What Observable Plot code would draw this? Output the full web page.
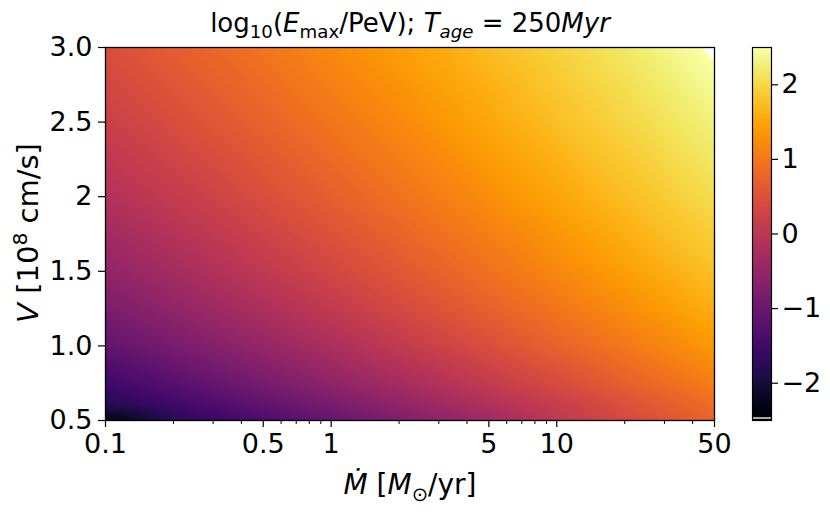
<!DOCTYPE html>
<html><head><meta charset="utf-8">
<script src="https://cdn.jsdelivr.net/npm/d3@7"></script>
<script src="https://cdn.jsdelivr.net/npm/@observablehq/plot@0.6"></script>
<style>
body{margin:0;background:#fff;}
#chart{position:relative;width:830px;height:513px;font-family:"DejaVu Sans",sans-serif;color:#000;}
#chart svg{position:absolute;left:0;top:0;}
.lbl{position:absolute;white-space:nowrap;font-size:27px;line-height:1;}
.lbl sub,.lbl sup{font-size:70%;line-height:0;}
</style></head><body><div id="chart"></div>
<script>
// Mass-loss rate (x, log) and wind velocity (y) grid
const mdot = [0.1, 0.2, 0.5, 1, 2, 5, 10, 20, 50];
const vel = [0.5, 0.6, 0.75, 1.0, 1.25, 1.5, 2.0, 2.5, 3.0];
// log10(Emax/PeV): one row per vel value, one column per mdot value
const emaxRows = [
  [-2.35, -1.80, -1.37, -1.07, -0.76, -0.35, 0.05, 0.35, 0.75],
  [-1.85, -1.53, -1.13, -0.84, -0.54, -0.14, 0.16, 0.47, 0.88],
  [-1.52, -1.22, -0.84, -0.55, -0.27, 0.12, 0.40, 0.70, 1.08],
  [-1.10, -0.83, -0.47, -0.19, 0.09, 0.45, 0.73, 1.00, 1.37],
  [-0.79, -0.52, -0.17, 0.09, 0.36, 0.71, 0.97, 1.24, 1.59],
  [-0.53, -0.28, 0.07, 0.32, 0.58, 0.92, 1.18, 1.43, 1.77],
  [-0.12, 0.12, 0.44, 0.69, 0.93, 1.25, 1.50, 1.74, 2.06],
  [0.19, 0.43, 0.73, 0.97, 1.20, 1.51, 1.75, 1.98, 2.29],
  [0.45, 0.67, 0.97, 1.20, 1.42, 1.72, 1.95, 2.17, 2.55]
];
const xTicks = [0.1, 0.5, 1, 5, 10, 50];
const xTickLabels = ["0.1", "0.5", "1", "5", "10", "50"];
const xMinorTicks = [0.2, 0.3, 0.4, 0.6, 0.7, 0.8, 0.9, 2, 3, 4, 6, 7, 8, 9, 20, 30, 40];
const yTicks = [0.5, 1.0, 1.5, 2.0, 2.5, 3.0];
const yTickLabels = ["0.5", "1.0", "1.5", "2", "2.5", "3.0"];
const cbTicks = [-2, -1, 0, 1, 2];
const cbTickLabels = ["\u22122", "\u22121", "0", "1", "2"];
const colorDomain = [-2.5, 2.5];

const grid = [];
vel.forEach((v, j) => mdot.forEach((m, i) => grid.push({mdot: m, v: v, e: emaxRows[j][i]})));

const yLab = new Map(yTicks.map((d, i) => [d, yTickLabels[i]]));
const cLab = new Map(cbTicks.map((d, i) => [d, cbTickLabels[i]]));

const W = 830, H = 513;
const mL = 105, mR = 116, mT = 47, mB = 93;
const plotH = H - mT - mB;
const colorOpts = {type: "linear", scheme: "inferno", domain: colorDomain, clamp: true};
const font = {fontFamily: "DejaVu Sans", fontSize: "27px", background: "transparent", color: "black"};

const main = Plot.plot({
  width: W, height: H,
  marginLeft: mL, marginRight: mR, marginTop: mT, marginBottom: mB,
  style: font,
  x: {type: "log", domain: [0.1, 50], axis: null},
  y: {type: "linear", domain: [0.5, 3.0], axis: null},
  color: colorOpts,
  marks: [
    Plot.raster(grid, {x: "mdot", y: "v", fill: "e", x1: 0.1, x2: 50, y1: 0.5, y2: 3.0, interpolate: "barycentric"}),
    Plot.contour(grid, {x: "mdot", y: "v", value: "e", x1: 0.1, x2: 50, y1: 0.5, y2: 3.0, thresholds: [2.5], interpolate: "barycentric", fill: "white", stroke: "none"}),
    Plot.frame({stroke: "black", strokeWidth: 1.3}),
    Plot.ruleX(xMinorTicks, {x: d => d, insetTop: plotH, insetBottom: -4, stroke: "black", strokeWidth: 1}),
    Plot.ruleX(xTicks, {x: d => d, insetTop: plotH, insetBottom: -7, stroke: "black", strokeWidth: 1.2}),
    Plot.text(xTicks, {x: d => d, text: (d, i) => xTickLabels[i], frameAnchor: "bottom", lineAnchor: "top", dy: 13, fontSize: 27, fill: "black"}),
    Plot.axisY(yTicks, {tickSize: 7, tickPadding: 6, tickFormat: d => yLab.get(d), label: null, strokeWidth: 1.2, fontSize: 27})
  ]
});

const cb = Plot.plot({
  width: W, height: H,
  marginLeft: 752, marginRight: W - 771, marginTop: mT, marginBottom: mB,
  style: font,
  x: {domain: [0, 1], axis: null},
  y: {domain: colorDomain, axis: null},
  color: colorOpts,
  marks: [
    Plot.raster({x1: 0, x2: 1, y1: colorDomain[0], y2: colorDomain[1], fill: (x, y) => y}),
    Plot.rect([colorDomain[0]], {x1: 0, x2: 1, y1: d => d, y2: d => d, insetTop: -3, insetBottom: 1, fill: "#a8a8a8"}),
    Plot.frame({stroke: "black", strokeWidth: 1.2}),
    Plot.axisY(cbTicks, {anchor: "right", tickSize: 6, tickPadding: 4, tickFormat: d => cLab.get(d), label: null, strokeWidth: 1.2, fontSize: 27})
  ]
});

const chart = document.getElementById("chart");
chart.appendChild(main);
chart.appendChild(cb);

function addLabel(html, x, y, rotate) {
  const d = document.createElement("div");
  d.className = "lbl";
  d.innerHTML = html;
  d.style.left = x + "px";
  d.style.top = y + "px";
  d.style.transform = "translate(-50%,-50%)" + (rotate ? " rotate(-90deg)" : "");
  chart.appendChild(d);
  return d;
}
addLabel('log<sub>10</sub>(<i>E</i><sub>max</sub>/PeV); <i>T</i><sub><i>age</i></sub> = 250<i>Myr</i>', 410, 23, false).style.fontSize = "26px";
addLabel('<i>&#7744;</i> [<i>M</i><sub>&#8857;</sub>/yr]', 410, 485, false).style.fontSize = "28px";
addLabel('<i>V</i> [10<sup>8</sup> cm/s]', 28, 233, true).style.fontSize = "29px";
</script></body></html>
